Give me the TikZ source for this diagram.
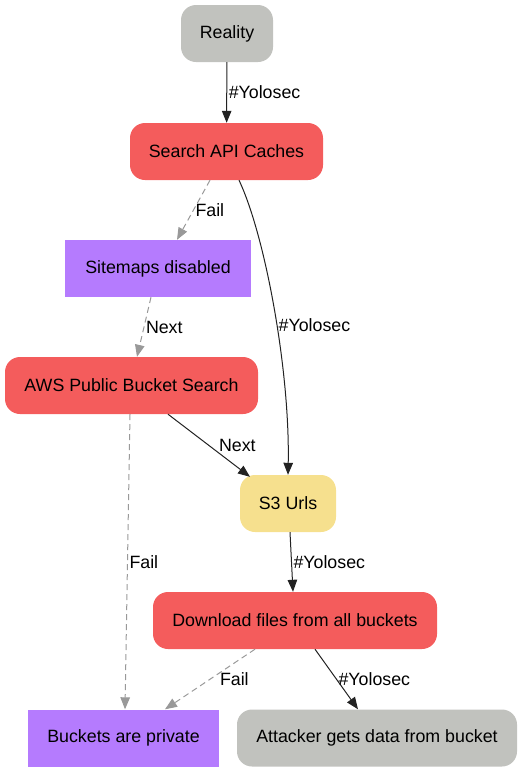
\documentclass[tikz,border=0pt]{standalone}
\usepackage{fontspec}
\setmainfont{Liberation Sans}
\usetikzlibrary{arrows.meta}
\definecolor{stepgray}{HTML}{C1C2BE}
\definecolor{stepred}{HTML}{F45C5C}
\definecolor{steppurple}{HTML}{B57BFE}
\definecolor{stepyellow}{HTML}{F6E08E}
\definecolor{failgray}{HTML}{999999}
\definecolor{okdark}{HTML}{222222}

\begin{document}
\begin{tikzpicture}[x=1pt, y=-1pt, font=\fontsize{17.8}{20}\selectfont,
    box/.style={minimum height=57pt, inner sep=0pt},
    rbox/.style={box, rounded corners=15pt},
    ok/.style={line width=1pt, color=okdark, -{Triangle[length=12pt,width=9.5pt]}},
    fail/.style={line width=1pt, color=failgray, dash pattern=on 6pt off 4pt, -{Triangle[length=12pt,width=9.5pt]}},
    lbl/.style={right, inner sep=1.5pt, text=black}]
      \useasboundingbox (0,0) rectangle (527,772);
      \node[rbox, fill=stepgray, minimum width=92pt] (reality) at (227,33.5) {Reality};
      \node[rbox, fill=stepred, minimum width=193pt] (search) at (226.5,151.5) {Search API Caches};
      \node[box, fill=steppurple, minimum width=186pt] (sitemaps) at (158,268.5) {Sitemaps disabled};
      \node[rbox, fill=stepred, minimum width=253pt] (aws) at (131.5,385.5) {AWS Public Bucket Search};
      \node[rbox, fill=stepyellow, minimum width=96pt] (s3) at (288,503.5) {S3 Urls};
      \node[rbox, fill=stepred, minimum width=284pt] (download) at (295,620.5) {Download files from all buckets};
      \node[box, fill=steppurple, minimum width=191pt] (private) at (123.5,738) {Buckets are private};
      \node[rbox, fill=stepgray, minimum width=280pt] (attacker) at (377,738) {Attacker gets data from bucket};
      \draw[ok] (reality) -- node[lbl] {\#Yolosec} (search);
      \draw[fail] ([xshift=-16.5pt]search.south) -- node[lbl] {Fail} ([xshift=19pt]sitemaps.north);
      \draw[ok] ([xshift=12.5pt]search.south) .. controls (265,235) and (290,370) .. node[lbl, pos=.55] {\#Yolosec} (s3.north);
      \draw[fail] ([xshift=-7pt]sitemaps.south) -- node[lbl] {Next} ([xshift=5.5pt]aws.north);
      \draw[ok] ([xshift=36.5pt]aws.south) -- node[lbl, xshift=8pt] {Next} ([xshift=-38pt, yshift=-2pt]s3.north);
      \draw[fail] ([xshift=-1.5pt]aws.south) -- node[lbl] {Fail} ([xshift=1.5pt]private.north);
      \draw[ok] ([xshift=2pt]s3.south) -- node[lbl] {\#Yolosec} ([xshift=-2pt]download.north);
      \draw[fail] ([xshift=-40pt]download.south) -- node[lbl, xshift=8pt] {Fail} ([xshift=41.5pt]private.north);
      \draw[ok] ([xshift=20pt]download.south) -- node[lbl] {\#Yolosec} ([xshift=-19pt]attacker.north);
    \end{tikzpicture}
\end{document}
